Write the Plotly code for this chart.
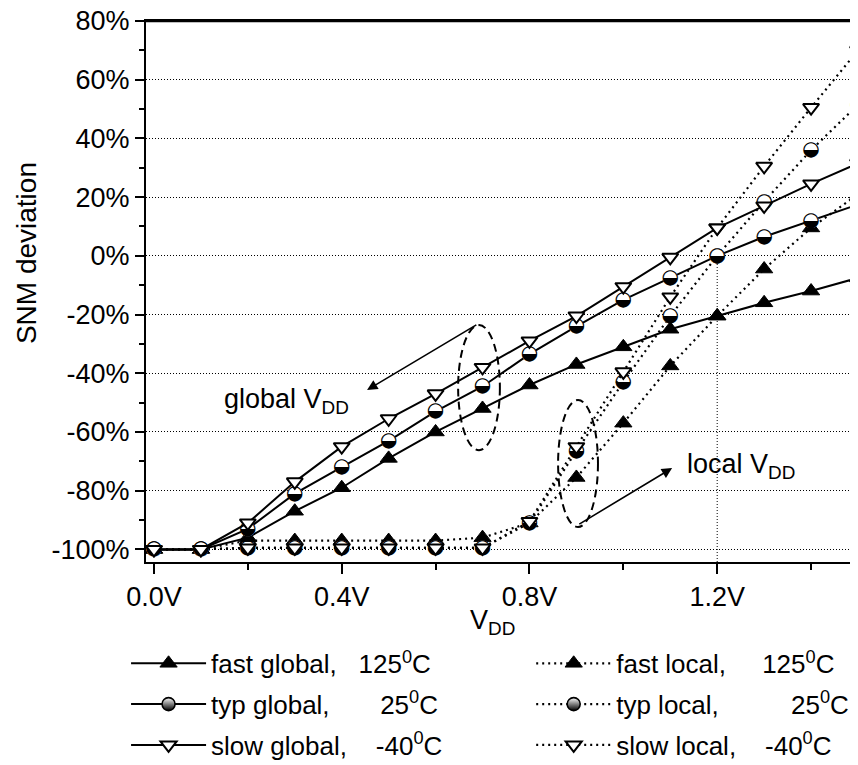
import plotly.graph_objects as go

# ---------------- data ----------------
vdd = [0.0, 0.1, 0.2, 0.3, 0.4, 0.5, 0.6, 0.7, 0.8, 0.9, 1.0, 1.1, 1.2, 1.3, 1.4, 1.5]

fast_global = [-100, -100, -96, -87, -79, -69, -60, -52, -44, -37, -31, -25, -20.5, -16, -12, -7.5]
typ_global = [-100, -100, -93, -81, -72, -63, -53, -44.5, -33.5, -24, -15, -7.5, 0, 6.5, 12, 17.5]
slow_global = [-100, -100, -91, -77, -65, -55.5, -47, -38, -29, -20.5, -10.5, -0.5, 9.5, 17, 24.5, 31.5]

fast_local = [-100, -100, -97, -97, -97, -97, -97, -96, -91, -75.5, -57, -37.5, -20.5, -4.5, 9.5, 21]
typ_local = [-100, -100, -99.5, -99.5, -99.5, -99.5, -99.5, -99.5, -91, -66.5, -43, -20.5, 0, 18.5, 36, 51.5]
slow_local = [-100, -100, -99.5, -99.5, -99.5, -99.5, -99.5, -99.5, -90.5, -65, -39.5, -14, 9.5, 30.5, 50.5, 70]

x_tick_vals = [0.0, 0.4, 0.8, 1.2]
x_tick_text = ["0.0V", "0.4V", "0.8V", "1.2V"]
x_minor_vals = [0.2, 0.6, 1.0, 1.4]
y_tick_vals = [-100, -80, -60, -40, -20, 0, 20, 40, 60, 80]
y_tick_text = ["-100%", "-80%", "-60%", "-40%", "-20%", "0%", "20%", "40%", "60%", "80%"]
y_minor_vals = [-90, -70, -50, -30, -10, 10, 30, 50, 70]

NB = "\u00a0"
names = {
    "fast_global": "fast global," + NB * 3 + "125<sup>0</sup>C",
    "typ_global": "typ global," + NB * 7 + "25<sup>0</sup>C",
    "slow_global": "slow global," + NB * 4 + "-40<sup>0</sup>C",
    "fast_local": "fast local," + NB * 5 + "125<sup>0</sup>C",
    "typ_local": "typ local," + NB * 10 + "25<sup>0</sup>C",
    "slow_local": "slow local," + NB * 4 + "-40<sup>0</sup>C",
}

FONT = "Liberation Sans, Arial, sans-serif"
BLACK = "black"
DOT = "2px,4px"

fig = go.Figure()


def add_series(y, name, kind, dash, legend, rank):
    line = dict(color=BLACK, width=2 if dash == "solid" else 2.2, dash=dash)
    if kind == "fast":
        marker = dict(symbol="triangle-up", size=15, color=BLACK, line=dict(color=BLACK, width=1))
    elif kind == "slow":
        marker = dict(symbol="triangle-down", size=14, color="white", line=dict(color=BLACK, width=2))
    else:
        marker = dict(symbol="circle", size=13, color="white",
                      gradient=dict(type="vertical", color=BLACK),
                      line=dict(color=BLACK, width=1.6))
    fig.add_trace(go.Scatter(x=vdd, y=y, mode="lines+markers", name=name, line=line,
                             marker=marker, legend=legend, legendrank=rank,
                             legendgroup=name, hoverinfo="skip"))
    if kind == "typ":
        # half-filled circle glyph drawn on top of the data points
        fig.add_trace(go.Scatter(x=vdd, y=y, mode="markers+text", text=["\u25d2"] * len(vdd),
                                 textposition="middle center",
                                 textfont=dict(family="DejaVu Sans", size=20, color=BLACK),
                                 marker=dict(symbol="circle", size=15, color="white", line=dict(width=0)),
                                 showlegend=False, hoverinfo="skip"))


add_series(fast_local, names["fast_local"], "fast", DOT, "legend2", 1)
add_series(typ_local, names["typ_local"], "typ", DOT, "legend2", 2)
add_series(slow_local, names["slow_local"], "slow", DOT, "legend2", 3)
add_series(fast_global, names["fast_global"], "fast", "solid", "legend", 1)
add_series(typ_global, names["typ_global"], "typ", "solid", "legend", 2)
add_series(slow_global, names["slow_global"], "slow", "solid", "legend", 3)

Y0, Y1 = -104.3, 80
X0, X1 = -0.017, 1.5

fig.update_xaxes(
    range=[X0, X1], showgrid=False, zeroline=False,
    showline=True, linecolor=BLACK, linewidth=2, mirror=True,
    tickmode="array", tickvals=x_tick_vals, ticktext=x_tick_text,
    ticks="outside", ticklen=10, tickwidth=2, tickcolor=BLACK,
    ticklabeloverflow="allow",
    tickfont=dict(family=FONT, size=27, color=BLACK),
    minor=dict(tickmode="array", tickvals=x_minor_vals, ticks="outside",
               ticklen=6, tickwidth=2, tickcolor=BLACK, showgrid=False),
)
fig.update_yaxes(
    range=[Y0, Y1], showgrid=True, gridcolor=BLACK, gridwidth=1, griddash="1px,2px",
    zeroline=False, showline=True, linecolor=BLACK, linewidth=2, mirror=False,
    tickmode="array", tickvals=y_tick_vals, ticktext=y_tick_text,
    ticks="outside", ticklen=9, tickwidth=2, tickcolor=BLACK,
    ticklabeloverflow="allow",
    tickfont=dict(family=FONT, size=27, color=BLACK),
    minor=dict(tickmode="array", tickvals=y_minor_vals, ticks="outside",
               ticklen=5, tickwidth=2, tickcolor=BLACK, showgrid=False),
)

shapes = [
    dict(type="line", xref="x", yref="y", x0=1.2, x1=1.2, y0=Y0, y1=0,
         line=dict(color=BLACK, width=1, dash="1px,2px"), layer="below"),
    dict(type="line", xref="paper", yref="paper", x0=0, x1=1, y0=1, y1=1,
         line=dict(color=BLACK, width=2.5)),
    dict(type="circle", xref="x", yref="y", x0=0.648, x1=0.737, y0=-66.2, y1=-23.6,
         line=dict(color=BLACK, width=2, dash="8px,5px")),
    dict(type="circle", xref="x", yref="y", x0=0.861, x1=0.946, y0=-92.4, y1=-49.1,
         line=dict(color=BLACK, width=2, dash="8px,5px")),
]

annotations = [
    dict(x=0.454, y=-45.7, ax=0.690, ay=-23.2, xref="x", yref="y", axref="x", ayref="y",
         text="", showarrow=True, arrowhead=2, arrowsize=1.3, arrowwidth=1.6, arrowcolor=BLACK),
    dict(x=1.104, y=-72.3, ax=0.903, ay=-91.7, xref="x", yref="y", axref="x", ayref="y",
         text="", showarrow=True, arrowhead=2, arrowsize=1.3, arrowwidth=1.6, arrowcolor=BLACK),
    dict(x=0.145, y=-49.5, xref="x", yref="y", xanchor="left", yanchor="middle",
         text="global V<sub>DD</sub>", showarrow=False,
         font=dict(family=FONT, size=27, color=BLACK)),
    dict(x=1.131, y=-71.5, xref="x", yref="y", xanchor="left", yanchor="middle",
         text="local V<sub>DD</sub>", showarrow=False,
         font=dict(family=FONT, size=27, color=BLACK)),
    dict(x=-0.1685, y=0.571, xref="paper", yref="paper", xanchor="center", yanchor="middle",
         text="SNM deviation", textangle=-90, showarrow=False,
         font=dict(family=FONT, size=28, color=BLACK)),
    dict(x=0.486, y=-0.076, xref="paper", yref="paper", xanchor="center", yanchor="top",
         text="V<sub>DD</sub>", showarrow=False,
         font=dict(family=FONT, size=27, color=BLACK)),
]

legend_common = dict(orientation="v", xanchor="left", yanchor="top", itemwidth=75,
                     bgcolor="rgba(0,0,0,0)", borderwidth=0, tracegroupgap=4,
                     font=dict(family=FONT, size=26, color=BLACK))

# the page places the figure 8px from the window's top-left corner
fig.update_layout(
    width=850, height=757,
    margin=dict(l=138, r=0, t=13, b=203, autoexpand=False),
    paper_bgcolor="white", plot_bgcolor="white",
    shapes=shapes, annotations=annotations,
    legend=dict(x=-0.028, y=-0.144, **legend_common),
    legend2=dict(x=0.541, y=-0.144, **legend_common),
    showlegend=True,
)

fig.write_html("out.html")
